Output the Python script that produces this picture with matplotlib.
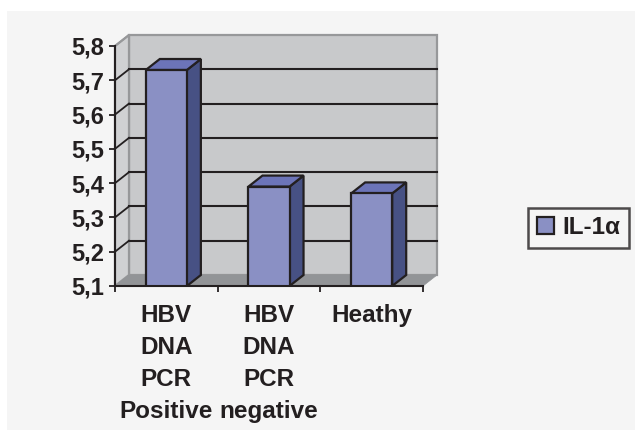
import matplotlib
matplotlib.use('Agg')
import matplotlib.pyplot as plt
from matplotlib.patches import Polygon, Rectangle

# values
categories = ['HBV\nDNA\nPCR\nPositive', 'HBV\nDNA\nPCR\nnegative', 'Heathy\n\n\n']
il1a = [5.73, 5.39, 5.37]
y_ticks = [5.1, 5.2, 5.3, 5.4, 5.5, 5.6, 5.7, 5.8]
y_labels = ['5,1', '5,2', '5,3', '5,4', '5,5', '5,6', '5,7', '5,8']

W, H = 635, 430
plt.rcParams['font.family'] = ['Liberation Sans', 'DejaVu Sans']
DARK = '#231f20'

fig = plt.figure(figsize=(W / 100, H / 100), dpi=100, facecolor='white')
# grey panel behind everything
fig.add_artist(Rectangle((7 / W, 0), 1 - 7 / W, 1 - 11 / H, transform=fig.transFigure,
                         facecolor='#f5f5f5', edgecolor='none', zorder=-1))

ax = fig.add_axes([115 / W, 1 - 286 / H, 308 / W, 240 / H])
ax.patch.set_visible(False)
ax.set_xlim(0, 3)
ax.set_ylim(5.1, 5.8)

# depth of the fake 3d box, 14px across and 11px up, in data units
dx = 14 * 3 / 308
dy = 11 * 0.7 / 240
y0, y1 = 5.1, 5.8


def face(points, color, edge='none', lw=0, z=1):
    ax.add_patch(Polygon(points, closed=True, facecolor=color, edgecolor=edge,
                         linewidth=lw, clip_on=False, zorder=z))


# walls and floor
face([(dx, y0 + dy), (3 + dx, y0 + dy), (3 + dx, y1 + dy), (dx, y1 + dy)], '#c8c9cb', '#97989a', 1.6)
face([(0, y0), (dx, y0 + dy), (dx, y1 + dy), (0, y1)], '#d0d1d3', '#97989a', 1.6)
face([(0, y0), (3, y0), (3 + dx, y0 + dy), (dx, y0 + dy)], '#929497', '#929497', 0.5, z=2)

# gridlines on the back wall and down the side wall
for t in y_ticks[1:]:
    if t < y1:
        ax.plot([dx, 3 + dx], [t + dy, t + dy], color=DARK, lw=1.5, clip_on=False, zorder=3)
    ax.plot([0, dx], [t, t + dy], color=DARK if t < y1 else '#97989a', lw=1.3, clip_on=False, zorder=3)

# bars
bar_w = 0.4
for i, v in enumerate(il1a):
    l = i + 0.5 - bar_w / 2
    r = i + 0.5 + bar_w / 2
    face([(r, y0), (r + dx, y0 + dy), (r + dx, v + dy), (r, v)], '#475184', DARK, 1.6, z=4)
    face([(l, v), (r, v), (r + dx, v + dy), (l + dx, v + dy)], '#6c74b8', DARK, 1.6, z=4)
bars = ax.bar([i + 0.5 for i in range(3)], il1a, bottom=0, width=bar_w, color='#8a90c4',
              edgecolor=DARK, linewidth=1.6, zorder=5, label='IL-1α')

for s in ['top', 'right']:
    ax.spines[s].set_visible(False)
for s in ['left', 'bottom']:
    ax.spines[s].set_color(DARK)
    ax.spines[s].set_linewidth(1.5)
    ax.spines[s].set_zorder(6)

ax.set_yticks(y_ticks)
ax.set_yticklabels(y_labels, fontsize=17, fontweight='bold', color=DARK)
ax.tick_params(axis='y', length=4.3, width=1.3, color=DARK, pad=3.6)

ax.set_xticks([0.5, 1.5, 2.5])
ax.set_xticklabels(categories, fontsize=17.5, fontweight='bold', color=DARK, linespacing=1.5)
ax.set_xticks([0, 1, 2, 3], minor=True)
ax.tick_params(axis='x', which='major', length=0, pad=13)
ax.tick_params(axis='x', which='minor', length=4.3, width=1.3, color=DARK)

leg = fig.legend(handles=[bars], loc='center', bbox_to_anchor=(578.5 / W, 1 - 228 / H),
                 fontsize=17.5, frameon=True, fancybox=False, facecolor='#f5f5f5',
                 edgecolor=DARK, handlelength=0.7, handleheight=0.7, handletextpad=0.33,
                 borderpad=0.35, borderaxespad=0)
leg.get_frame().set_linewidth(1.8)
for t in leg.get_texts():
    t.set_fontweight('bold')
    t.set_color(DARK)

fig.savefig('out.png', dpi=100)
